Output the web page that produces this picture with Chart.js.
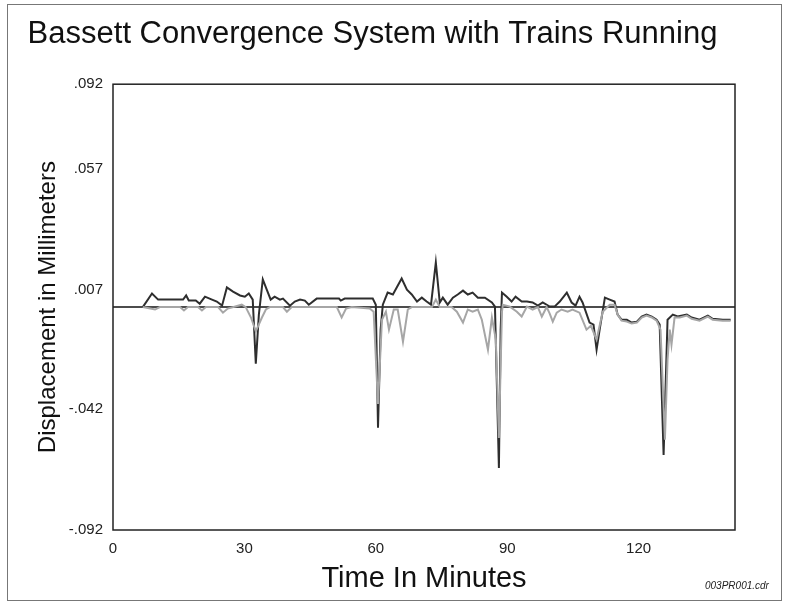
<!DOCTYPE html>
<html>
<head>
<meta charset="utf-8">
<script src="https://cdn.jsdelivr.net/npm/chart.js@4.4.1/dist/chart.umd.min.js"></script>
<style>
  html, body { margin: 0; padding: 0; background: #fff; }
  #wrap { position: relative; width: 790px; height: 605px; }
  #frame { position: absolute; left: 7px; top: 4px; width: 773px; height: 595px; border: 1px solid #777; pointer-events: none; }
  #note { position: absolute; left: 705px; top: 580px; font: italic 10px "Liberation Sans", Arial, sans-serif; color: #222; }
</style>
</head>
<body>
<div id="wrap">
  <canvas id="chart" width="790" height="605"></canvas>
  <div id="frame"></div>
  <div id="note">003PR001.cdr</div>
</div>
<script>
// minutes / displacement (mm)
const darkTimes = [6.8, 8.9, 10.3, 13.0, 16.0, 16.7, 17.3, 18.9, 19.8, 21.0, 22.6, 23.7, 24.9, 26.0, 27.4, 29.0, 30.1, 31.0, 31.9, 32.6, 33.3, 34.2, 35.1, 36.0, 36.9, 38.1, 38.8, 40.4, 41.5, 42.7, 43.8, 44.7, 46.5, 51.6, 52.0, 52.9, 59.3, 60.0, 60.5, 61.1, 61.6, 62.7, 63.9, 65.9, 67.1, 68.2, 69.4, 70.5, 71.6, 72.6, 73.7, 74.6, 75.3, 76.4, 77.6, 78.7, 79.9, 81.0, 82.1, 83.3, 84.9, 86.5, 87.2, 88.1, 88.5, 88.8, 89.9, 91.0, 91.9, 93.3, 94.5, 95.8, 97.0, 98.1, 99.7, 100.8, 102.0, 103.6, 104.7, 105.6, 106.5, 107.2, 108.8, 109.7, 110.4, 111.1, 112.3, 113.4, 114.5, 115.2, 116.1, 117.3, 118.4, 119.6, 120.7, 121.8, 123.0, 124.1, 124.8, 125.7, 126.6, 127.8, 128.9, 131.0, 132.1, 133.9, 135.8, 136.9, 139.2, 141.0];
const darkValues = [0.0000, 0.0056, 0.0031, 0.0031, 0.0031, 0.0048, 0.0027, 0.0027, 0.0014, 0.0043, 0.0031, 0.0023, 0.0006, 0.0081, 0.0064, 0.0048, 0.0043, 0.0056, 0.0031, -0.0234, -0.0031, 0.0114, 0.0072, 0.0031, 0.0043, 0.0031, 0.0035, 0.0006, 0.0023, 0.0031, 0.0027, 0.0010, 0.0035, 0.0035, 0.0027, 0.0035, 0.0035, 0.0010, -0.0498, -0.0093, 0.0010, 0.0060, 0.0052, 0.0118, 0.0072, 0.0052, 0.0023, 0.0039, 0.0023, 0.0010, 0.0184, 0.0019, 0.0039, 0.0010, 0.0039, 0.0052, 0.0068, 0.0052, 0.0060, 0.0039, 0.0039, 0.0019, 0.0002, -0.0664, -0.0093, 0.0060, 0.0043, 0.0023, 0.0043, 0.0023, 0.0023, 0.0019, 0.0006, 0.0019, 0.0002, 0.0002, 0.0023, 0.0060, 0.0019, 0.0006, 0.0043, 0.0019, -0.0064, -0.0072, -0.0176, -0.0093, 0.0039, 0.0031, 0.0023, -0.0031, -0.0052, -0.0052, -0.0064, -0.0060, -0.0039, -0.0031, -0.0039, -0.0052, -0.0072, -0.0610, -0.0052, -0.0031, -0.0039, -0.0031, -0.0043, -0.0052, -0.0035, -0.0048, -0.0052, -0.0052];

const grayTimes = [6.8, 9.6, 10.7, 15.3, 16.2, 17.1, 19.4, 20.3, 21.2, 24.0, 25.1, 26.2, 29.4, 30.3, 31.5, 32.6, 34.0, 34.9, 35.8, 38.8, 39.7, 40.8, 51.1, 52.2, 53.2, 54.5, 58.6, 59.5, 60.5, 61.4, 62.3, 63.0, 64.1, 65.0, 66.2, 67.3, 68.2, 72.8, 73.7, 74.6, 77.3, 78.5, 79.9, 81.0, 82.1, 83.3, 84.2, 85.6, 86.5, 87.4, 88.1, 88.8, 89.0, 90.6, 92.2, 93.3, 94.5, 95.8, 97.0, 97.9, 99.0, 99.7, 100.4, 101.3, 102.4, 103.8, 104.9, 106.5, 108.1, 109.1, 110.4, 111.8, 113.4, 114.5, 115.2, 116.1, 117.3, 118.4, 119.6, 120.7, 121.8, 123.0, 124.1, 125.0, 126.0, 126.6, 127.1, 127.5, 128.2, 129.4, 131.0, 132.1, 133.9, 135.8, 136.9, 139.2, 141.0];
const grayValues = [0.0000, -0.0010, 0.0000, 0.0000, -0.0014, 0.0000, 0.0000, -0.0014, 0.0000, 0.0000, -0.0023, -0.0006, 0.0010, 0.0000, -0.0043, -0.0100, -0.0043, -0.0010, 0.0000, 0.0000, -0.0019, 0.0000, 0.0000, -0.0043, -0.0006, 0.0000, -0.0006, -0.0019, -0.0400, -0.0052, -0.0019, -0.0093, -0.0010, -0.0010, -0.0143, -0.0010, 0.0000, 0.0000, 0.0031, 0.0000, 0.0000, -0.0019, -0.0064, -0.0010, -0.0019, -0.0010, -0.0052, -0.0176, -0.0043, -0.0134, -0.0540, -0.0019, 0.0010, 0.0002, -0.0019, -0.0039, 0.0002, -0.0010, 0.0000, -0.0039, 0.0000, -0.0027, -0.0060, -0.0023, -0.0010, -0.0019, -0.0010, -0.0023, -0.0093, -0.0077, -0.0134, -0.0019, 0.0010, 0.0010, -0.0031, -0.0056, -0.0060, -0.0068, -0.0064, -0.0043, -0.0035, -0.0043, -0.0056, -0.0093, -0.0547, -0.0217, -0.0093, -0.0155, -0.0043, -0.0043, -0.0035, -0.0048, -0.0056, -0.0039, -0.0052, -0.0056, -0.0056];

const baseTimes = [0, 142];
const baseValues = [0, 0];

const xTickValues = [0, 30, 60, 90, 120];
const yTickValues = [-0.092, -0.042, 0.007, 0.057, 0.092];
const yTickLabels = ["-.092", "-.042", ".007", ".057", ".092"];

function toPoints(xs, ys) {
  return xs.map((x, i) => ({ x: x, y: ys[i] }));
}

const FONT = '"Liberation Sans", Arial, Helvetica, sans-serif';

// box around the plot area
const boxPlugin = {
  id: "plotBox",
  afterDraw(chart) {
    const a = chart.chartArea;
    const c = chart.ctx;
    c.save();
    c.strokeStyle = "#222";
    c.lineWidth = 1.5;
    c.strokeRect(a.left, a.top, a.right - a.left, a.bottom - a.top);
    c.restore();
  },
};

const ctx = document.getElementById("chart").getContext("2d");
new Chart(ctx, {
  type: "line",
  data: {
    datasets: [
      {
        label: "gray",
        data: toPoints(grayTimes, grayValues),
        borderColor: "#a6a6a6",
        borderWidth: 2,
        pointRadius: 0,
        tension: 0,
      },
      {
        label: "dark",
        data: toPoints(darkTimes, darkValues),
        borderColor: "#2e2e2e",
        borderWidth: 2,
        pointRadius: 0,
        tension: 0,
      },
      {
        label: "zero",
        data: toPoints(baseTimes, baseValues),
        borderColor: "#111",
        borderWidth: 1.5,
        pointRadius: 0,
      },
    ],
  },
  options: {
    responsive: false,
    animation: false,
    layout: { padding: { left: 10, right: 55, top: 0, bottom: 0 } },
    scales: {
      x: {
        type: "linear",
        min: 0,
        max: 142,
        afterBuildTicks: (scale) => {
          scale.ticks = xTickValues.map((v) => ({ value: v }));
        },
        afterFit: (scale) => {
          scale.height = 75;
        },
        grid: { display: false, drawTicks: false },
        border: { display: false },
        ticks: {
          padding: 10,
          color: "#222",
          font: { family: FONT, size: 15 },
          maxRotation: 0,
        },
        title: {
          display: true,
          text: "Time In Minutes",
          color: "#111",
          font: { family: FONT, size: 29 },
          padding: { top: 0, bottom: 9 },
        },
      },
      y: {
        type: "linear",
        min: -0.092,
        max: 0.092,
        afterBuildTicks: (scale) => {
          scale.ticks = yTickValues.map((v) => ({ value: v }));
        },
        afterFit: (scale) => {
          scale.width = 103;
        },
        grid: { display: false, drawTicks: false },
        border: { display: false },
        ticks: {
          padding: 10,
          color: "#222",
          font: { family: FONT, size: 15 },
          callback: (v) => {
            const i = yTickValues.indexOf(v);
            return i >= 0 ? yTickLabels[i] : "";
          },
        },
        title: {
          display: true,
          text: "Displacement in Millimeters",
          color: "#111",
          font: { family: FONT, size: 24 },
          padding: { top: 24, bottom: 0 },
        },
      },
    },
    plugins: {
      legend: { display: false },
      tooltip: { enabled: false },
      title: {
        display: true,
        text: "Bassett Convergence System with Trains Running",
        color: "#111",
        font: { family: FONT, size: 31, weight: "normal" },
        padding: { top: 16, bottom: 31 },
      },
    },
  },
  plugins: [boxPlugin],
});
</script>
</body>
</html>
